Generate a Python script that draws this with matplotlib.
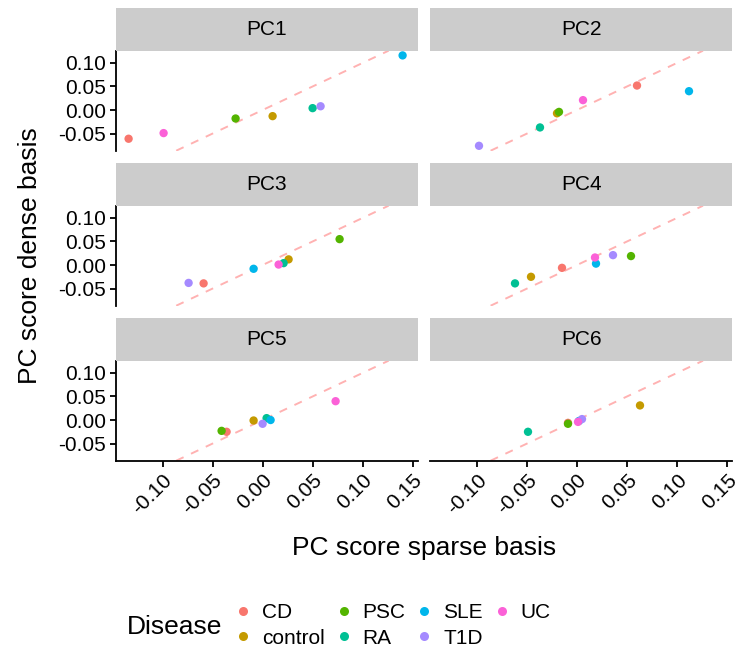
import matplotlib
matplotlib.use('Agg')
import matplotlib.pyplot as plt
from matplotlib.lines import Line2D

plt.rcParams['font.family'] = ['Liberation Sans', 'DejaVu Sans']

diseases = ['CD', 'control', 'PSC', 'RA', 'SLE', 'T1D', 'UC']
colors = ['#F8766D', '#C49A00', '#53B400', '#00C094', '#00B6EB', '#A58AFF', '#FB61D7']
panels = ['PC1', 'PC2', 'PC3', 'PC4', 'PC5', 'PC6']

# x = PC score sparse basis, y = PC score dense basis (order follows `diseases`)
sparse_pc1 = [-0.134, 0.010, -0.027, 0.050, 0.140, 0.058, -0.099]
dense_pc1 = [-0.061, -0.013, -0.018, 0.004, 0.116, 0.008, -0.049]
sparse_pc2 = [0.060, -0.020, -0.018, -0.037, 0.112, -0.098, 0.006]
dense_pc2 = [0.052, -0.007, -0.004, -0.037, 0.040, -0.076, 0.021]
sparse_pc3 = [-0.059, 0.026, 0.077, 0.021, -0.009, -0.074, 0.016]
dense_pc3 = [-0.039, 0.012, 0.055, 0.004, -0.008, -0.038, 0.001]
sparse_pc4 = [-0.015, -0.046, 0.054, -0.062, 0.019, 0.036, 0.018]
dense_pc4 = [-0.006, -0.025, 0.019, -0.039, 0.003, 0.021, 0.016]
sparse_pc5 = [-0.036, -0.009, -0.041, 0.004, 0.008, 0.000, 0.073]
dense_pc5 = [-0.025, -0.001, -0.023, 0.004, 0.000, -0.008, 0.040]
sparse_pc6 = [-0.009, 0.063, -0.009, -0.049, 0.002, 0.005, 0.001]
dense_pc6 = [-0.006, 0.031, -0.008, -0.025, -0.002, 0.002, -0.004]

sparse = [sparse_pc1, sparse_pc2, sparse_pc3, sparse_pc4, sparse_pc5, sparse_pc6]
dense = [dense_pc1, dense_pc2, dense_pc3, dense_pc4, dense_pc5, dense_pc6]

x_ticks = [-0.10, -0.05, 0.00, 0.05, 0.10, 0.15]
y_ticks = [-0.05, 0.00, 0.05, 0.10]

W, H = 735, 651
fig = plt.figure(figsize=(W / 100, H / 100), dpi=100)

col_left = [116, 430.4]
row_top = [50.7, 205.7, 360.7]
PW, PH, SH = 302, 100, 42.5

for i, pc in enumerate(panels):
    r, c = divmod(i, 2)
    x0, y0 = col_left[c], row_top[r]
    ax = fig.add_axes([x0 / W, 1 - (y0 + PH) / H, PW / W, PH / H])
    sax = fig.add_axes([x0 / W, 1 - y0 / H, PW / W, SH / H])
    sax.set_facecolor('#CCCCCC')
    sax.set_xticks([]); sax.set_yticks([])
    for s in sax.spines.values():
        s.set_visible(False)
    sax.text(0.5, 0.5, pc, ha='center', va='center', fontsize=15, transform=sax.transAxes)

    ax.axline((0, 0), slope=1, color='red', alpha=0.3, lw=1.4, ls=(0, (4.2, 4.2)), zorder=1)
    for d, col, xv, yv in zip(diseases, colors, sparse[i], dense[i]):
        ax.scatter([xv], [yv], s=36, color=col, edgecolors='none', zorder=3)

    ax.set_xlim(-0.1466, 0.1554)
    ax.set_ylim(-0.0864, 0.126)
    ax.set_xticks(x_ticks)
    ax.set_yticks(y_ticks)
    ax.set_xticklabels([f'{v:.2f}' for v in x_ticks], rotation=45, ha='right', va='top',
                       rotation_mode='anchor')
    ax.set_yticklabels([f'{v:.2f}' for v in y_ticks])
    for name, s in ax.spines.items():
        s.set_visible(False)
        s.set_linewidth(1.3)
    if c == 0:
        ax.spines['left'].set_visible(True)
    if r == 2:
        ax.spines['bottom'].set_visible(True)
    ax.tick_params(axis='both', length=4.3, width=1.3, labelsize=15, pad=3, color='black')
    ax.tick_params(axis='y', left=(c == 0), labelleft=(c == 0))
    ax.tick_params(axis='x', bottom=(r == 2), labelbottom=(r == 2))

fig.text(30 / W, 1 - 255.7 / H, 'PC score dense basis', rotation=90, ha='center', va='center', fontsize=19)
fig.text(424.5 / W, 1 - 548 / H, 'PC score sparse basis', ha='center', va='center', fontsize=19)
fig.text(127 / W, 1 - 627 / H, 'Disease', ha='left', va='center', fontsize=19)

handles = [Line2D([], [], marker='o', ls='', color=col, markersize=6.5, markeredgewidth=0) for col in colors]
fig.legend(handles, diseases, loc='center left', bbox_to_anchor=(232.9 / W, 1 - 625.5 / H),
           ncol=4, frameon=False, fontsize=15, handlelength=1.0, handletextpad=0.41,
           columnspacing=0.4, labelspacing=0.3, borderpad=0, borderaxespad=0)

fig.savefig('out.png', dpi=100)
